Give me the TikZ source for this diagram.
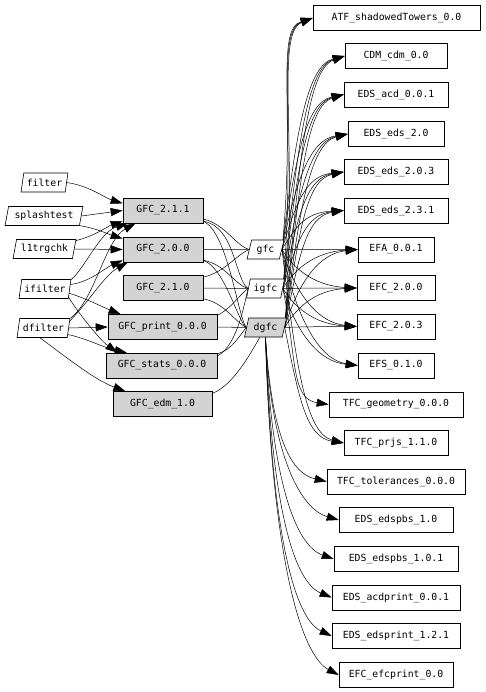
\documentclass[tikz,border=0pt]{standalone}
\usepackage{fontspec}
\newfontfamily\gvmono{DejaVu Sans Mono}
\usetikzlibrary{arrows.meta,shapes.geometric,calc,backgrounds}
\definecolor{gvgray}{HTML}{D3D3D3}
\begin{document}
\begin{tikzpicture}[x=1pt,y=-1pt,
  every node/.style={font=\gvmono\fontsize{9.8}{11}\selectfont, inner sep=0pt},
  box/.style={draw, rectangle, fill=white, minimum height=25pt, minimum width=#1pt, line width=0.6pt},
  gbox/.style={box=#1, fill=gvgray},
  para/.style={draw, fill=white, trapezium, trapezium left angle=73, trapezium right angle=107, trapezium stretches=true, minimum width=#1pt, minimum height=19pt, line width=0.6pt},
  arr/.style={-{Triangle[length=12pt,width=8pt]}, line width=0.5pt},
  ln/.style={line width=0.5pt}]
\useasboundingbox (0,0) rectangle (485,692);
% left inputs
\node[para=47] (filter) at (44.5,182.5) {filter};
\node[para=78] (splash) at (44,216) {splashtest};
\node[para=63] (l1trg) at (44.5,249) {l1trgchk};
\node[para=52] (ifilter) at (45,289) {ifilter};
\node[para=53] (dfilter) at (43.5,328) {dfilter};
% GFC boxes
\node[gbox=80] (g211) at (163,210.5) {GFC\_2.1.1};
\node[gbox=80] (g200) at (163,249.5) {GFC\_2.0.0};
\node[gbox=80] (g210) at (163,288) {GFC\_2.1.0};
\node[gbox=109] (gprint) at (162.5,327) {GFC\_print\_0.0.0};
\node[gbox=111] (gstats) at (162,365.5) {GFC\_stats\_0.0.0};
\node[gbox=99] (gedm) at (162.5,404) {GFC\_edm\_1.0};
% packages
\node[para=37] (gfc) at (265.5,249.5) {gfc};
\node[para=38] (igfc) at (265.5,288.5) {igfc};
\node[para=42, fill=gvgray] (dgfc) at (265.5,327.5) {dgfc};
% right column
\node[box=167] (atf) at (396.5,18) {ATF\_shadowedTowers\_0.0};
\node[box=102] (cdm) at (396,56) {CDM\_cdm\_0.0};
\node[box=104] (acd) at (396,94.5) {EDS\_acd\_0.0.1};
\node[box=96] (eds20) at (396,134) {EDS\_eds\_2.0};
\node[box=104] (eds203) at (396,172) {EDS\_eds\_2.0.3};
\node[box=104] (eds231) at (396,210.5) {EDS\_eds\_2.3.1};
\node[box=76] (efa) at (396,249.5) {EFA\_0.0.1};
\node[box=78] (efc200) at (396,288) {EFC\_2.0.0};
\node[box=78] (efc203) at (396,326.5) {EFC\_2.0.3};
\node[box=76] (efs) at (396,365.5) {EFS\_0.1.0};
\node[box=134] (tfcg) at (396,404.5) {TFC\_geometry\_0.0.0};
\node[box=104] (tfcp) at (396,443) {TFC\_prjs\_1.1.0};
\node[box=138] (tfct) at (396,481.5) {TFC\_tolerances\_0.0.0};
\node[box=114] (pbs10) at (396,520) {EDS\_edspbs\_1.0};
\node[box=124] (pbs101) at (396,559) {EDS\_edspbs\_1.0.1};
\node[box=128] (acdp) at (396,597.5) {EDS\_acdprint\_0.0.1};
\node[box=128] (edsp) at (396,636) {EDS\_edsprint\_1.2.1};
\node[box=114] (efcp) at (396,675) {EFC\_efcprint\_0.0};
\begin{scope}[on background layer]
% left edges
\draw[arr] (filter.east) .. controls (90,186) and (105,198) .. (g211.170);
\draw[arr] (splash.east) -- (g211.west);
\draw[arr] (splash.-15) .. controls (95,228) and (108,234) .. (g200.165);
\draw[arr] (l1trg.15) .. controls (95,236) and (108,226) .. (g211.195);
\draw[arr] (l1trg.east) -- (g200.west);
\draw[arr] (ifilter.20) .. controls (85,268) and (100,232) .. (g211.200);
\draw[arr] (ifilter.10) .. controls (90,282) and (105,268) .. (g200.195);
\draw[arr] (ifilter.-10) .. controls (85,298) and (105,308) .. (gprint.163);
\draw[arr] (ifilter.-20) .. controls (80,315) and (100,340) .. (gstats.164);
\draw[arr] (dfilter.20) .. controls (95,300) and (105,240) .. (g211.205);
\draw[arr] (dfilter.15) .. controls (90,300) and (105,275) .. (g200.200);
\draw[arr] (dfilter.east) -- (gprint.west);
\draw[arr] (dfilter.-15) .. controls (85,338) and (105,348) .. (gstats.160);
\draw[arr] (dfilter.-110) .. controls (70,360) and (95,380) .. (gedm.161);
% middle edges
\draw[ln] (g211.-12) .. controls (225,224) and (235,245) .. (gfc.west);
\draw[ln] (g211.-15) .. controls (235,226) and (235,280) .. (igfc.west);
\draw[ln] (g211.-15) .. controls (228,232) and (238,318) .. (dgfc.west);
\draw[ln] (g200.east) -- (gfc.west);
\draw[ln] (g200.-15) .. controls (225,264) and (235,285) .. (igfc.west);
\draw[ln] (g200.-15) .. controls (225,268) and (238,322) .. (dgfc.west);
\draw[ln] (g210.15) .. controls (225,272) and (235,256) .. (gfc.west);
\draw[ln] (g210.east) -- (igfc.west);
\draw[ln] (g210.-15) .. controls (225,303) and (235,322) .. (dgfc.west);
\draw[ln] (gprint.12) .. controls (232,308) and (238,296) .. (igfc.west);
\draw[ln] (gprint.east) -- (dgfc.west);
\draw[ln] (gstats.12) .. controls (232,350) and (240,335) .. (dgfc.west);
\draw[ln] (gstats.10) .. controls (238,345) and (245,300) .. (igfc.west);
\draw[ln] (gedm.12) .. controls (235,385) and (255,345) .. (dgfc.240);
% right edges, sideways
\foreach \s/\t in {gfc/atf,gfc/cdm,gfc/acd,gfc/eds20,gfc/eds203,gfc/eds231,gfc/efa,gfc/efc200,gfc/efc203,gfc/efs,gfc/tfcp,
  igfc/atf,igfc/cdm,igfc/acd,igfc/eds20,igfc/eds203,igfc/eds231,igfc/efa,igfc/efc200,igfc/efc203,igfc/efs,igfc/tfcg,
  dgfc/atf,dgfc/cdm,dgfc/acd,dgfc/eds20,dgfc/eds203,dgfc/eds231,dgfc/efa,dgfc/efc200,dgfc/efc203,dgfc/tfcp}
  \draw[arr] let \p1=(\s.east), \p2=(\t.west) in
    (\p1) .. controls (\x1+14pt, {\y1+0.6*((\y2)-(\y1))}) and (\x2-38pt, {\y2+0.05*((\y1)-(\y2))}) .. (\p2);
% right edges, downward from dgfc
\foreach \t in {tfct,pbs10,pbs101,acdp,edsp,efcp}
  \draw[arr] let \p1=(dgfc.south), \p2=(\t.west) in
    (\p1) .. controls (\x1+6pt, {\y1+0.65*((\y2)-(\y1))}) and (\x2-38pt, {\y2+0.06*((\y1)-(\y2))}) .. (\p2);
\end{scope}
\end{tikzpicture}
\end{document}
